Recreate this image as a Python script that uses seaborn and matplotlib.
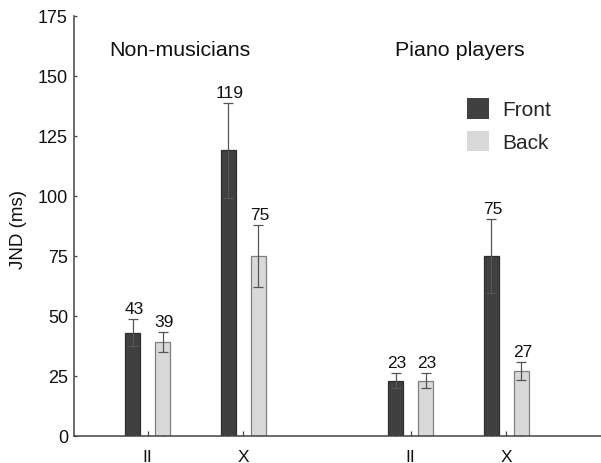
import numpy as np
import pandas as pd
import seaborn as sns
import matplotlib.pyplot as plt

# Dados
groups = ["Non-musicians", "Piano players"]
conditions = ["II", "X"]
ears = ["Front", "Back"]
front_jnd = [43, 119, 23, 75]
back_jnd = [39, 75, 23, 27]
front_err = [5.6, 19.7, 3.2, 15.5]
back_err = [4.3, 13.0, 3.3, 3.9]

# layout: distância entre grupos (em unidades de condição)
GROUP_STEP = 2.75

rows = []
for i, (g, c) in enumerate([(g, c) for g in groups for c in conditions]):
    pos = groups.index(g) * GROUP_STEP + conditions.index(c)
    rows.append({"group": g, "cond": c, "ear": "Front", "jnd": front_jnd[i], "err": front_err[i], "pos": pos})
    rows.append({"group": g, "cond": c, "ear": "Back", "jnd": back_jnd[i], "err": back_err[i], "pos": pos})
df = pd.DataFrame(rows)

sns.set_theme(style="ticks")
plt.rcParams["font.family"] = ["Liberation Sans", "DejaVu Sans"]

fig = plt.figure(figsize=(6.01, 4.64), dpi=100)
ax = fig.add_axes([0.1223, 0.0588, 0.8777, 0.9046])

cores = {"Front": "#404040", "Back": "#d9d9d9"}
bordas = {"Front": "#2e2e2e", "Back": "#808080"}

sns.barplot(
    data=df, x="pos", y="jnd", hue="ear", hue_order=ears,
    palette=cores, native_scale=True, width=0.628, gap=0.5,
    errorbar=None, ax=ax, legend=True
)

centros = []
for cont, ear in zip(ax.containers, ears):
    sub = df[df["ear"] == ear]
    for bar in cont:
        bar.set_edgecolor(bordas[ear])
        bar.set_linewidth(0.9)
        cx = bar.get_x() + bar.get_width() / 2
        h = bar.get_height()
        row = sub.iloc[np.argmin(np.abs(sub["jnd"].values - h))]
        centros.append(cx)
        ax.errorbar(cx, h, yerr=row["err"], fmt="none", ecolor="#555555",
                    elinewidth=0.9, capsize=3.3, capthick=0.9, zorder=5)
        ax.annotate(f"{int(row['jnd'])}", (cx, h + row["err"]), xytext=(0.8, 4.3),
                    textcoords="offset points", ha="center", va="baseline",
                    fontsize=12.5, color="#111111")

pos_grupos = sorted(df["pos"].unique())
ax.set_xticks(pos_grupos)
ax.set_xticklabels(conditions * len(groups))
ax.set_xticks(sorted(centros), minor=True)
ax.set_xlim(-0.776, 4.74)
ax.set_ylim(0, 175)
ax.set_yticks(np.arange(0, 176, 25))

ax.tick_params(axis="x", which="major", direction="in", length=3.8, width=0.9,
               pad=9.5, labelsize=12.5, color="#444444", labelcolor="#111111")
ax.tick_params(axis="x", which="minor", direction="in", length=2.2, width=0.9,
               color="#444444")
ax.tick_params(axis="y", direction="in", length=2.4, width=0.9, pad=4,
               labelsize=13, color="#444444", labelcolor="#111111")

for s in ["top", "right"]:
    ax.spines[s].set_visible(False)
for s in ["left", "bottom"]:
    ax.spines[s].set_color("#444444")
    ax.spines[s].set_linewidth(1.1)

ax.set_xlabel("")
ax.set_ylabel("JND (ms)", fontsize=13.5, color="#111111")
ax.yaxis.set_label_coords(-0.088, 0.4925)

ax.text(0.202, 0.919, groups[0], transform=ax.transAxes, ha="center", va="center",
        fontsize=15.4, color="#111111")
ax.text(0.733, 0.919, groups[1], transform=ax.transAxes, ha="center", va="center",
        fontsize=15.4, color="#111111")

handles, labels = ax.get_legend_handles_labels()
for hd in handles:
    hd.set_edgecolor("none")
ax.legend(handles, labels, loc="upper left", bbox_to_anchor=(0.746, 0.805),
          frameon=False, fontsize=15, handlelength=1.06, handleheight=1.15,
          handletextpad=0.63, labelspacing=0.55, borderpad=0, borderaxespad=0)

fig.savefig("out.png", dpi=100)
